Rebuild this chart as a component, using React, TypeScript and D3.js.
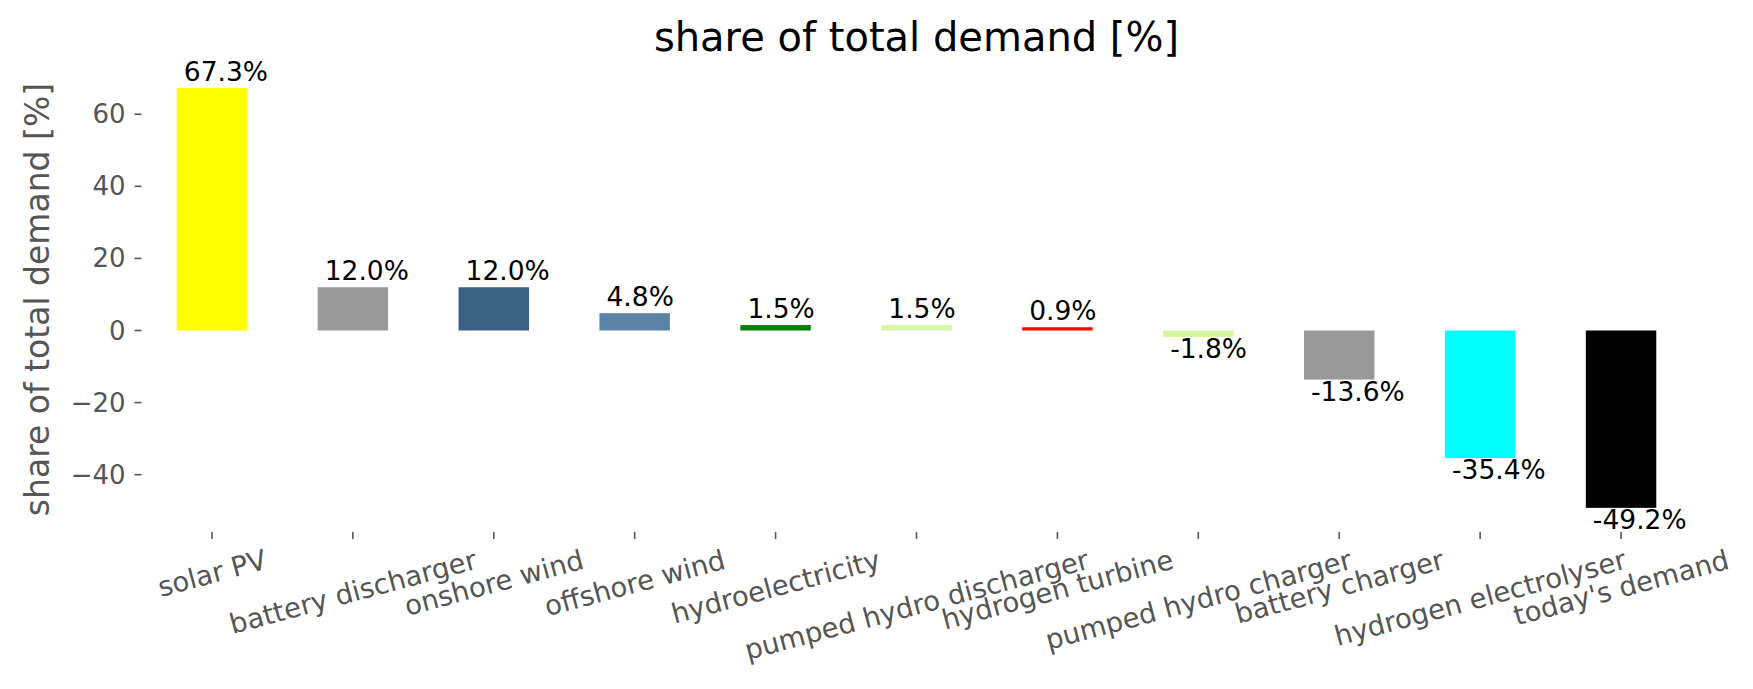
import React, { useEffect, useRef } from 'react';
import * as d3 from 'd3';

const categories = [
  'solar PV',
  'battery discharger',
  'onshore wind',
  'offshore wind',
  'hydroelectricity',
  'pumped hydro discharger',
  'hydrogen turbine',
  'pumped hydro charger',
  'battery charger',
  'hydrogen electrolyser',
  "today's demand",
];
const shares = [67.3, 12.0, 12.0, 4.8, 1.5, 1.5, 0.9, -1.8, -13.6, -35.4, -49.2];
const barColors = [
  '#ffff00', '#999999', '#3b6182', '#5b83a4', '#008000', '#d8f5a4',
  '#ff0000', '#d8f5a4', '#999999', '#00ffff', '#000000',
];
const yTicks = [-40, -20, 0, 20, 40, 60];

const W = 1753;
const H = 689;
const FONT = '"DejaVu Sans", sans-serif';
const GREY = '#555555';

export default function App() {
  const svgRef = useRef<SVGSVGElement>(null);

  useEffect(() => {
    if (!svgRef.current) return;
    const svg = d3.select(svgRef.current);
    svg.selectAll('*').remove();

    const left = 141.5, right = 1691.5, top = 67, bottom = 532;

    const x = d3.scaleBand<string>()
      .domain(categories)
      .range([left, right])
      .paddingInner(0.5)
      .paddingOuter(0.25);

    const y = d3.scaleLinear().domain([-55.9, 73.1]).range([bottom, top]);
    const step = x.step();

    // bars
    svg.append('g')
      .selectAll('rect')
      .data(shares)
      .join('rect')
      .attr('x', (_, i) => x(categories[i])!)
      .attr('width', x.bandwidth())
      .attr('y', d => y(Math.max(0, d)))
      .attr('height', d => Math.abs(y(d) - y(0)))
      .attr('fill', (_, i) => barColors[i]);

    // value labels
    svg.append('g')
      .selectAll('text')
      .data(shares)
      .join('text')
      .attr('x', (_, i) => x(categories[i])! + 0.05 * step)
      .attr('y', d => (d >= 0 ? y(d) - 7 : y(d) + 21))
      .attr('font-family', FONT)
      .attr('font-size', 26.5)
      .attr('fill', '#000')
      .text(d => `${d.toFixed(1)}%`);

    // y axis ticks
    const yAxis = svg.append('g');
    yTicks.forEach(t => {
      yAxis.append('line')
        .attr('x1', left - 7).attr('x2', left)
        .attr('y1', y(t)).attr('y2', y(t))
        .attr('stroke', GREY).attr('stroke-width', 1.6);
      yAxis.append('text')
        .attr('x', left - 16)
        .attr('y', y(t))
        .attr('text-anchor', 'end')
        .attr('dominant-baseline', 'central')
        .attr('font-family', FONT)
        .attr('font-size', 26)
        .attr('fill', GREY)
        .text(d3.format('d')(t));
    });

    // x axis ticks and rotated labels
    const xAxis = svg.append('g');
    const rot = (15 * Math.PI) / 180;
    const fs = 27.5;
    categories.forEach(c => {
      const cx = x(c)! + x.bandwidth() / 2;
      xAxis.append('line')
        .attr('x1', cx).attr('x2', cx)
        .attr('y1', bottom).attr('y2', bottom + 7)
        .attr('stroke', GREY).attr('stroke-width', 1.6);
      const label = xAxis.append('text')
        .attr('text-anchor', 'middle')
        .attr('dominant-baseline', 'central')
        .attr('font-family', FONT)
        .attr('font-size', fs)
        .attr('fill', GREY)
        .text(c);
      const len = (label.node() as SVGTextElement).getComputedTextLength();
      const boxH = len * Math.sin(rot) + fs * 1.17 * Math.cos(rot);
      const cy = bottom + 7 + 4 + boxH / 2;
      label.attr('transform', `translate(${cx},${cy}) rotate(-15)`);
    });

    // y label
    svg.append('text')
      .attr('transform', `translate(37,${(top + bottom) / 2}) rotate(-90)`)
      .attr('text-anchor', 'middle')
      .attr('dominant-baseline', 'central')
      .attr('font-family', FONT)
      .attr('font-size', 33)
      .attr('fill', GREY)
      .text('share of total demand [%]');

    // title
    svg.append('text')
      .attr('x', (left + right) / 2)
      .attr('y', 51)
      .attr('text-anchor', 'middle')
      .attr('font-family', FONT)
      .attr('font-size', 40)
      .attr('fill', '#000')
      .text('share of total demand [%]');
  }, []);

  return (
    <div style={{ position: 'absolute', left: 0, top: 0, background: '#fff' }}>
      <svg ref={svgRef} width={W} height={H} style={{ display: 'block' }} />
    </div>
  );
}
